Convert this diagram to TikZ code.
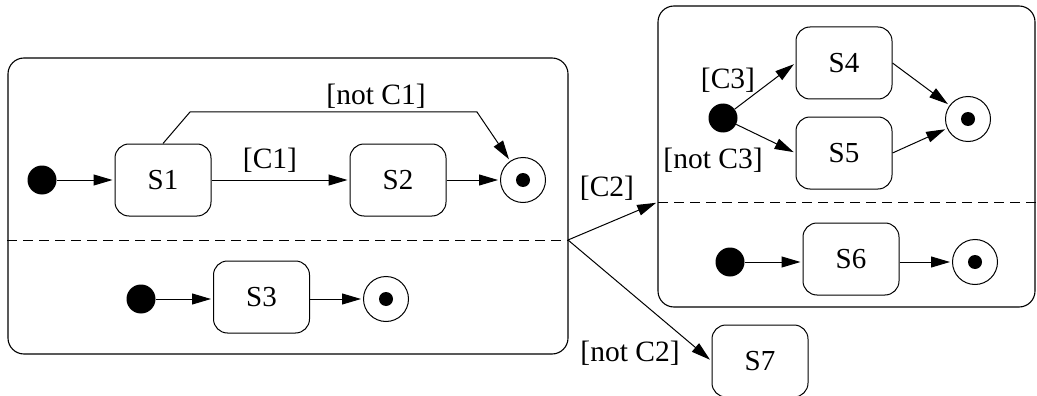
\documentclass[tikz,border=0pt]{standalone}
\usepackage{fontspec}
\setmainfont{Liberation Serif}
\usetikzlibrary{arrows.meta}
\begin{document}
\begin{tikzpicture}[x=1pt,y=-1pt,
  statebox/.style={draw, rounded corners=14pt, minimum width=96pt, minimum height=72pt,
                   line width=1pt, inner sep=0pt, font=\fontsize{29}{31}\selectfont},
  regionbox/.style={draw, rounded corners=16pt, line width=1.1pt, inner sep=0pt},
  initdot/.style={circle, fill=black, minimum size=29pt, inner sep=0pt},
  finaldot/.style={circle, draw, line width=1pt, minimum size=45pt, inner sep=0pt,
                   path picture={\fill (path picture bounding box.center) circle (7pt);}},
  arr/.style={-{Triangle[length=19pt,width=11pt]}, line width=1pt, shorten >=2pt},
  guard/.style={inner sep=0pt, font=\fontsize{29.5}{31}\selectfont},
  divider/.style={line width=1pt, dash pattern=on 10pt off 6pt}
]
\useasboundingbox (0,0) rectangle (1037,396);

% composite states
\node[regionbox, minimum width=560pt, minimum height=296pt] (L) at (288,206) {};
\node[regionbox, minimum width=377pt, minimum height=301pt] (R) at (846.5,156.5) {};
\coordinate (ljoin) at (568,240);
\coordinate (rjoin) at (658,202);
\draw[divider] (L.west |- ljoin) -- (ljoin);
\draw[divider] (rjoin) -- (R.east |- rjoin);

% left composite, upper region
\node[initdot] (I1) at (42,180) {};
\node[statebox] (S1) at (163,180) {S1};
\node[statebox] (S2) at (398,180) {S2};
\node[finaldot] (F1) at (523,180) {};
\coordinate (nc1a) at (190,112);
\coordinate (nc1b) at (477,112);
\draw[arr] (I1) -- (S1);
\draw[arr] (S1) -- (S2);
\draw[arr] (S2) -- (F1);
\draw[arr] (S1.north) -- (nc1a) -- (nc1b) -- (F1);
\node[guard] (gc1) at (270,160) {[C1]};
\node[guard] (gnc1) at (376,96) {[not C1]};

% left composite, lower region
\node[initdot] (I2) at (141,299) {};
\node[statebox] (S3) at (261.5,297) {S3};
\node[finaldot] (F2) at (386,299) {};
\draw[arr] (I2) -- (S3.west |- I2);
\draw[arr] (S3.east |- F2) -- (F2);

% right composite, upper region
\node[initdot] (I3) at (723,118) {};
\node[statebox] (S4) at (844,63) {S4};
\node[statebox] (S5) at (844,153) {S5};
\node[finaldot] (F3) at (968,119) {};
\draw[arr] (I3) -- (S4.west);
\draw[arr] (I3) -- (S5.west);
\draw[arr] (S4.east) -- (F3);
\draw[arr] (S5.east) -- (F3);
\node[guard] (gc3) at (728,80) {[C3]};
\node[guard] (gnc3) at (713,160) {[not C3]};

% right composite, lower region
\node[initdot] (I4) at (730,262) {};
\node[statebox] (S6) at (851,259) {S6};
\node[finaldot] (F4) at (975,262) {};
\draw[arr] (I4) -- (S6.west |- I4);
\draw[arr] (S6.east |- F4) -- (F4);

% outgoing choice
\node[statebox] (S7) at (760,361) {S7};
\draw[arr] (ljoin) -- (rjoin);
\draw[arr] (ljoin) -- (S7.west);
\node[guard] (gc2) at (607,188) {[C2]};
\node[guard] (gnc2) at (630,353) {[not C2]};
\end{tikzpicture}
\end{document}
